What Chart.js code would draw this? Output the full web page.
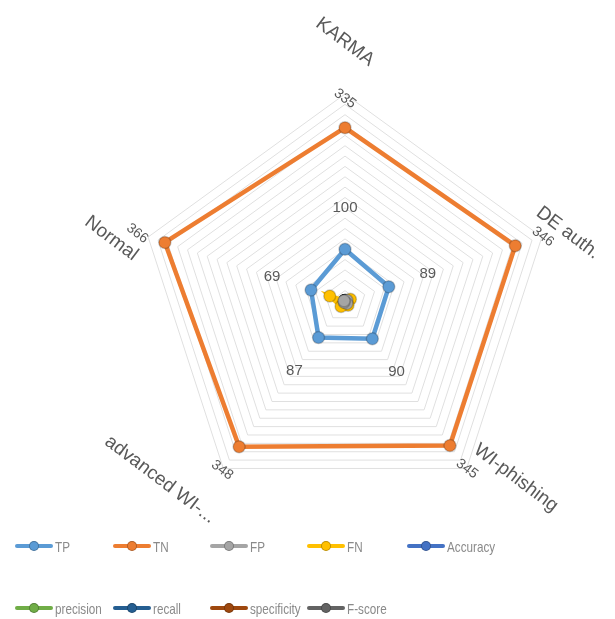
<!DOCTYPE html>
<html>
<head>
<meta charset="utf-8">
<script src="https://cdn.jsdelivr.net/npm/chart.js@4.4.1/dist/chart.umd.min.js"></script>
<style>
  html, body { margin: 0; padding: 0; background: #fff; }
  #wrap { position: relative; width: 615px; height: 619px; overflow: hidden; }
  #chart { position: absolute; left: 0; top: 0; }
  .legend-item {
    position: absolute; display: flex; align-items: center; height: 16px;
    font: 15px "Liberation Sans", sans-serif; color: #8a8a8a;
  }
  .legend-item b { font-weight: normal; display: inline-block; transform: scaleX(0.78); transform-origin: left center; }
  .swatch { position: relative; width: 38px; height: 4px; margin-right: 2px; border-radius: 2px; }
  .swatch i { position: absolute; left: 14px; top: -3px; width: 10px; height: 10px; border-radius: 50%; box-sizing: border-box; }
</style>
</head>
<body>
<div id="wrap">
  <canvas id="chart" width="615" height="619"></canvas>
</div>
<script>
const categories = ['KARMA', 'DE auth.', 'WI-phishing', 'advanced WI-...', 'Normal'];

const tp = [100, 89, 90, 87, 69];
const tn = [335, 346, 345, 348, 366];
const fp = [0, 4, 6, 3, 2];
const fn = [0, 11, 10, 13, 31];
const accuracy = [1.00, 0.97, 0.98, 0.97, 0.93];
const precision = [1.00, 0.96, 0.94, 0.97, 0.97];
const recall = [1.00, 0.89, 0.90, 0.87, 0.69];
const specificity = [1.00, 0.99, 0.98, 0.99, 0.99];
const fscore = [1.00, 0.92, 0.92, 0.92, 0.81];

const seriesNames = ['TP', 'TN', 'FP', 'FN', 'Accuracy', 'precision', 'recall', 'specificity', 'F-score'];
const seriesData = [tp, tn, fp, fn, accuracy, precision, recall, specificity, fscore];
const seriesColors = ['#5B9BD5', '#ED7D31', '#A5A5A5', '#FFC000', '#4472C4', '#70AD47', '#255E91', '#9E480E', '#636363'];

// where the tilted category names sit: distance from centre, turn off the axis (deg)
const nameDist = [259, 233, 246, 257, 242];
const nameTurn = [0, 1, -8, 10, -3];

// legend layout: 5 columns, 2 rows
const legendCols = [15, 113, 210, 307, 407];
const legendRows = [538, 600];

const wrap = document.getElementById('wrap');
seriesNames.forEach((name, i) => {
  const item = document.createElement('div');
  item.className = 'legend-item';
  item.style.left = legendCols[i % 5] + 'px';
  item.style.top = legendRows[Math.floor(i / 5)] + 'px';
  const sw = document.createElement('span');
  sw.className = 'swatch';
  sw.style.background = seriesColors[i];
  const dot = document.createElement('i');
  dot.style.background = seriesColors[i];
  dot.style.border = '1.5px solid rgba(0,0,0,0.25)';
  sw.appendChild(dot);
  item.appendChild(sw);
  const txt = document.createElement('b');
  txt.textContent = name;
  item.appendChild(txt);
  wrap.appendChild(item);
});

function drawRotated(ctx, text, x, y, angle) {
  ctx.save();
  ctx.translate(x, y);
  ctx.rotate(angle);
  ctx.fillText(text, 0, 0);
  ctx.restore();
}

// axis names and value labels, tilted like the original
const labelPlugin = {
  id: 'tiltedLabels',
  afterDatasetsDraw(chart) {
    const ctx = chart.ctx;
    const r = chart.scales.r;
    const tilt = 37 * Math.PI / 180;
    ctx.save();
    ctx.fillStyle = '#595959';
    ctx.textAlign = 'center';
    ctx.textBaseline = 'middle';

    ctx.font = '19px "Liberation Sans", sans-serif';
    categories.forEach((name, i) => {
      const a = r.getIndexAngle(i) - Math.PI / 2 + nameTurn[i] * Math.PI / 180;
      const x = r.xCenter + Math.cos(a) * nameDist[i];
      const y = r.yCenter + Math.sin(a) * nameDist[i];
      drawRotated(ctx, name, x, y, tilt);
    });

    ctx.font = '14px "Liberation Sans", sans-serif';
    tn.forEach((v, i) => {
      const p = r.getPointPosition(i, r.getDistanceFromCenterForValue(v) + 29);
      drawRotated(ctx, String(v), p.x, p.y, tilt);
    });

    ctx.font = '15px "Liberation Sans", sans-serif';
    tp.forEach((v, i) => {
      const p = r.getPointPosition(i, r.getDistanceFromCenterForValue(v) + 41);
      ctx.fillText(String(v), p.x, p.y);
    });
    ctx.restore();
  }
};

new Chart(document.getElementById('chart'), {
  type: 'radar',
  data: {
    labels: categories,
    datasets: seriesNames.map((name, i) => ({
      label: name,
      data: seriesData[i],
      borderColor: seriesColors[i],
      backgroundColor: seriesColors[i],
      pointBackgroundColor: seriesColors[i],
      pointBorderColor: 'rgba(0,0,0,0.2)',
      pointBorderWidth: 1.5,
      pointRadius: 6,
      borderWidth: 4.5,
      fill: false
    }))
  },
  options: {
    responsive: false,
    animation: false,
    layout: {
      padding: { left: 138, right: 63, top: 94, bottom: 111 }
    },
    scales: {
      r: {
        min: 0,
        max: 400,
        ticks: { display: false, stepSize: 20 },
        grid: { color: '#e0e0e0', lineWidth: 1 },
        angleLines: { display: false },
        pointLabels: { display: false }
      }
    },
    plugins: {
      legend: { display: false },
      tooltip: { enabled: false }
    }
  },
  plugins: [labelPlugin]
});
</script>
</body>
</html>
